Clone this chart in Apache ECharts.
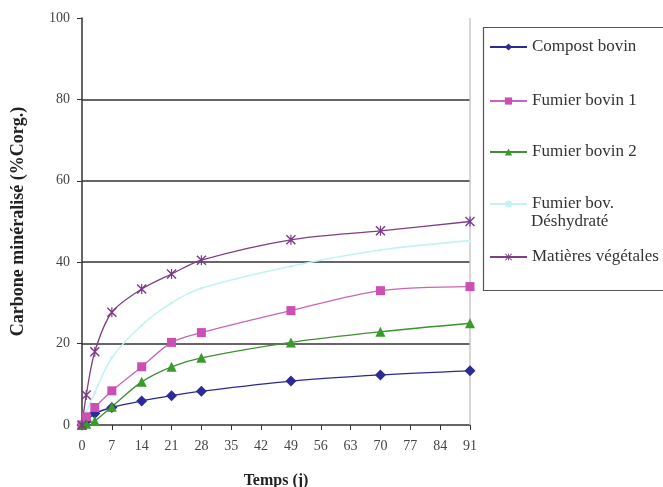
<!DOCTYPE html>
<html><head><meta charset="utf-8">
<script src="https://cdn.jsdelivr.net/npm/echarts@6/dist/echarts.min.js"></script>
<style>html,body{margin:0;padding:0;background:#fff}#c{width:663px;height:487px}</style>
</head><body><div id="c"></div>
<script>
const days = [0, 1, 3, 7, 14, 21, 28, 49, 70, 91];
const xTicks = [0, 7, 14, 21, 28, 35, 42, 49, 56, 63, 70, 77, 84, 91];
const yTicks = [0, 20, 40, 60, 80, 100];
const seriesNames = ['Compost bovin', 'Fumier bovin 1', 'Fumier bovin 2', 'Fumier bov. Déshydraté', 'Matières végétales'];
const legendLines = [['Compost bovin'], ['Fumier bovin 1'], ['Fumier bovin 2'], ['Fumier bov.', 'Déshydraté'], ['Matières végétales']];
const compostBovin = [0, 1.0, 2.8, 4.3, 5.9, 7.2, 8.3, 10.8, 12.3, 13.3];
const fumierBovin1 = [0, 2.0, 4.3, 8.4, 14.3, 20.3, 22.7, 28.1, 33.0, 34.0];
const fumierBovin2 = [0, 0.3, 1.0, 4.5, 10.6, 14.3, 16.5, 20.3, 22.9, 25.0];
const fumierDeshydrate = [0, 3.0, 8.0, 16.5, 24.5, 30.0, 33.6, 39.0, 43.0, 45.3];
const matieresVegetales = [0, 7.4, 18.0, 27.7, 33.4, 37.1, 40.5, 45.5, 47.7, 50.0];

const serif = 'Liberation Serif';
const pairs = v => days.map((d, i) => [d, v[i]]);
const starPath = 'path://M0,1 L1,0 L10,9 L9,10 Z M9,0 L10,1 L1,10 L0,9 Z M4.4,0 L5.6,0 L5.6,10 L4.4,10 Z';

const styles = [
  {line: '#2b2b8f', mk: '#2b2b9a', sym: 'diamond', size: 11},
  {line: '#c765b8', mk: '#cc4fb4', sym: 'rect', size: 9},
  {line: '#3f8f33', mk: '#3a9a2a', sym: 'triangle', size: 10},
  {line: '#c4f2f2', mk: '#c4f2f2', sym: 'circle', size: 3},
  {line: '#7f3f80', mk: '#7a3a8a', sym: starPath, size: 10}
];
const values = [compostBovin, fumierBovin1, fumierBovin2, fumierDeshydrate, matieresVegetales];
const legendTops = [32, 86, 137, 189, 242];
const legendLeft = 484;

const chart = echarts.init(document.getElementById('c'), null, {renderer: 'canvas'});
chart.setOption({
  animation: false,
  backgroundColor: '#fff',
  grid: {left: 82, right: 193, top: 18, bottom: 62, outerBoundsMode: 'none', containLabel: false},
  xAxis: {
    type: 'value', min: 0, max: 91, interval: 7,
    name: 'Temps (j)', nameLocation: 'middle', nameGap: 48,
    nameTextStyle: {fontFamily: serif, fontWeight: 'bold', fontSize: 16, color: '#222'},
    axisLine: {show: true, lineStyle: {color: '#333', width: 1.5}},
    axisTick: {show: true, length: 5, lineStyle: {color: '#333'}},
    axisLabel: {fontFamily: serif, fontSize: 14, color: '#444', margin: 14},
    splitLine: {show: false}
  },
  yAxis: {
    type: 'value', min: 0, max: 100, interval: 20,
    name: 'Carbone minéralisé (%Corg.)', nameLocation: 'middle', nameGap: 55,
    nameTextStyle: {fontFamily: serif, fontWeight: 'bold', fontSize: 18, color: '#222'},
    axisLine: {show: true, lineStyle: {color: '#333', width: 1.5}},
    axisTick: {show: true, length: 5, lineStyle: {color: '#333'}},
    axisLabel: {fontFamily: serif, fontSize: 14, color: '#444', margin: 12},
    splitLine: {show: true, lineStyle: {color: '#333', width: 1.5},
      showMinLine: false, showMaxLine: false}
  },
  legend: seriesNames.map((n, i) => ({
    data: [n], orient: 'vertical', left: legendLeft, top: legendTops[i],
    itemWidth: 37, itemHeight: 9, itemGap: 0,
    formatter: () => legendLines[i][0],
    textStyle: {fontFamily: serif, fontSize: 17, color: '#333', lineHeight: 20}
  })),
  graphic: [
    {type: 'rect', shape: {x: 483.5, y: 27.5, width: 200, height: 263},
     style: {fill: 'none', stroke: '#555', lineWidth: 1.2}, z: 10},
    {type: 'line', shape: {x1: 470, y1: 18, x2: 470, y2: 425},
     style: {stroke: '#bbb', lineWidth: 1.2}, z: 1},
    {type: 'text', x: 531, y: legendTops[3] + 33,
     style: {text: legendLines[3][1], font: '17px "Liberation Serif"', fill: '#333', verticalAlign: 'middle'}, z: 10}
  ],
  series: seriesNames.map((n, i) => ({
    name: n, type: 'line', data: pairs(values[i]),
    smooth: 0.3,
    symbol: styles[i].sym, symbolSize: styles[i].size, showSymbol: true,
    lineStyle: {color: styles[i].line, width: i === 3 ? 1.6 : 1.3},
    itemStyle: {color: styles[i].mk, borderWidth: 0},
    z: i === 3 ? 3 : 5
  }))
});
</script></body></html>
